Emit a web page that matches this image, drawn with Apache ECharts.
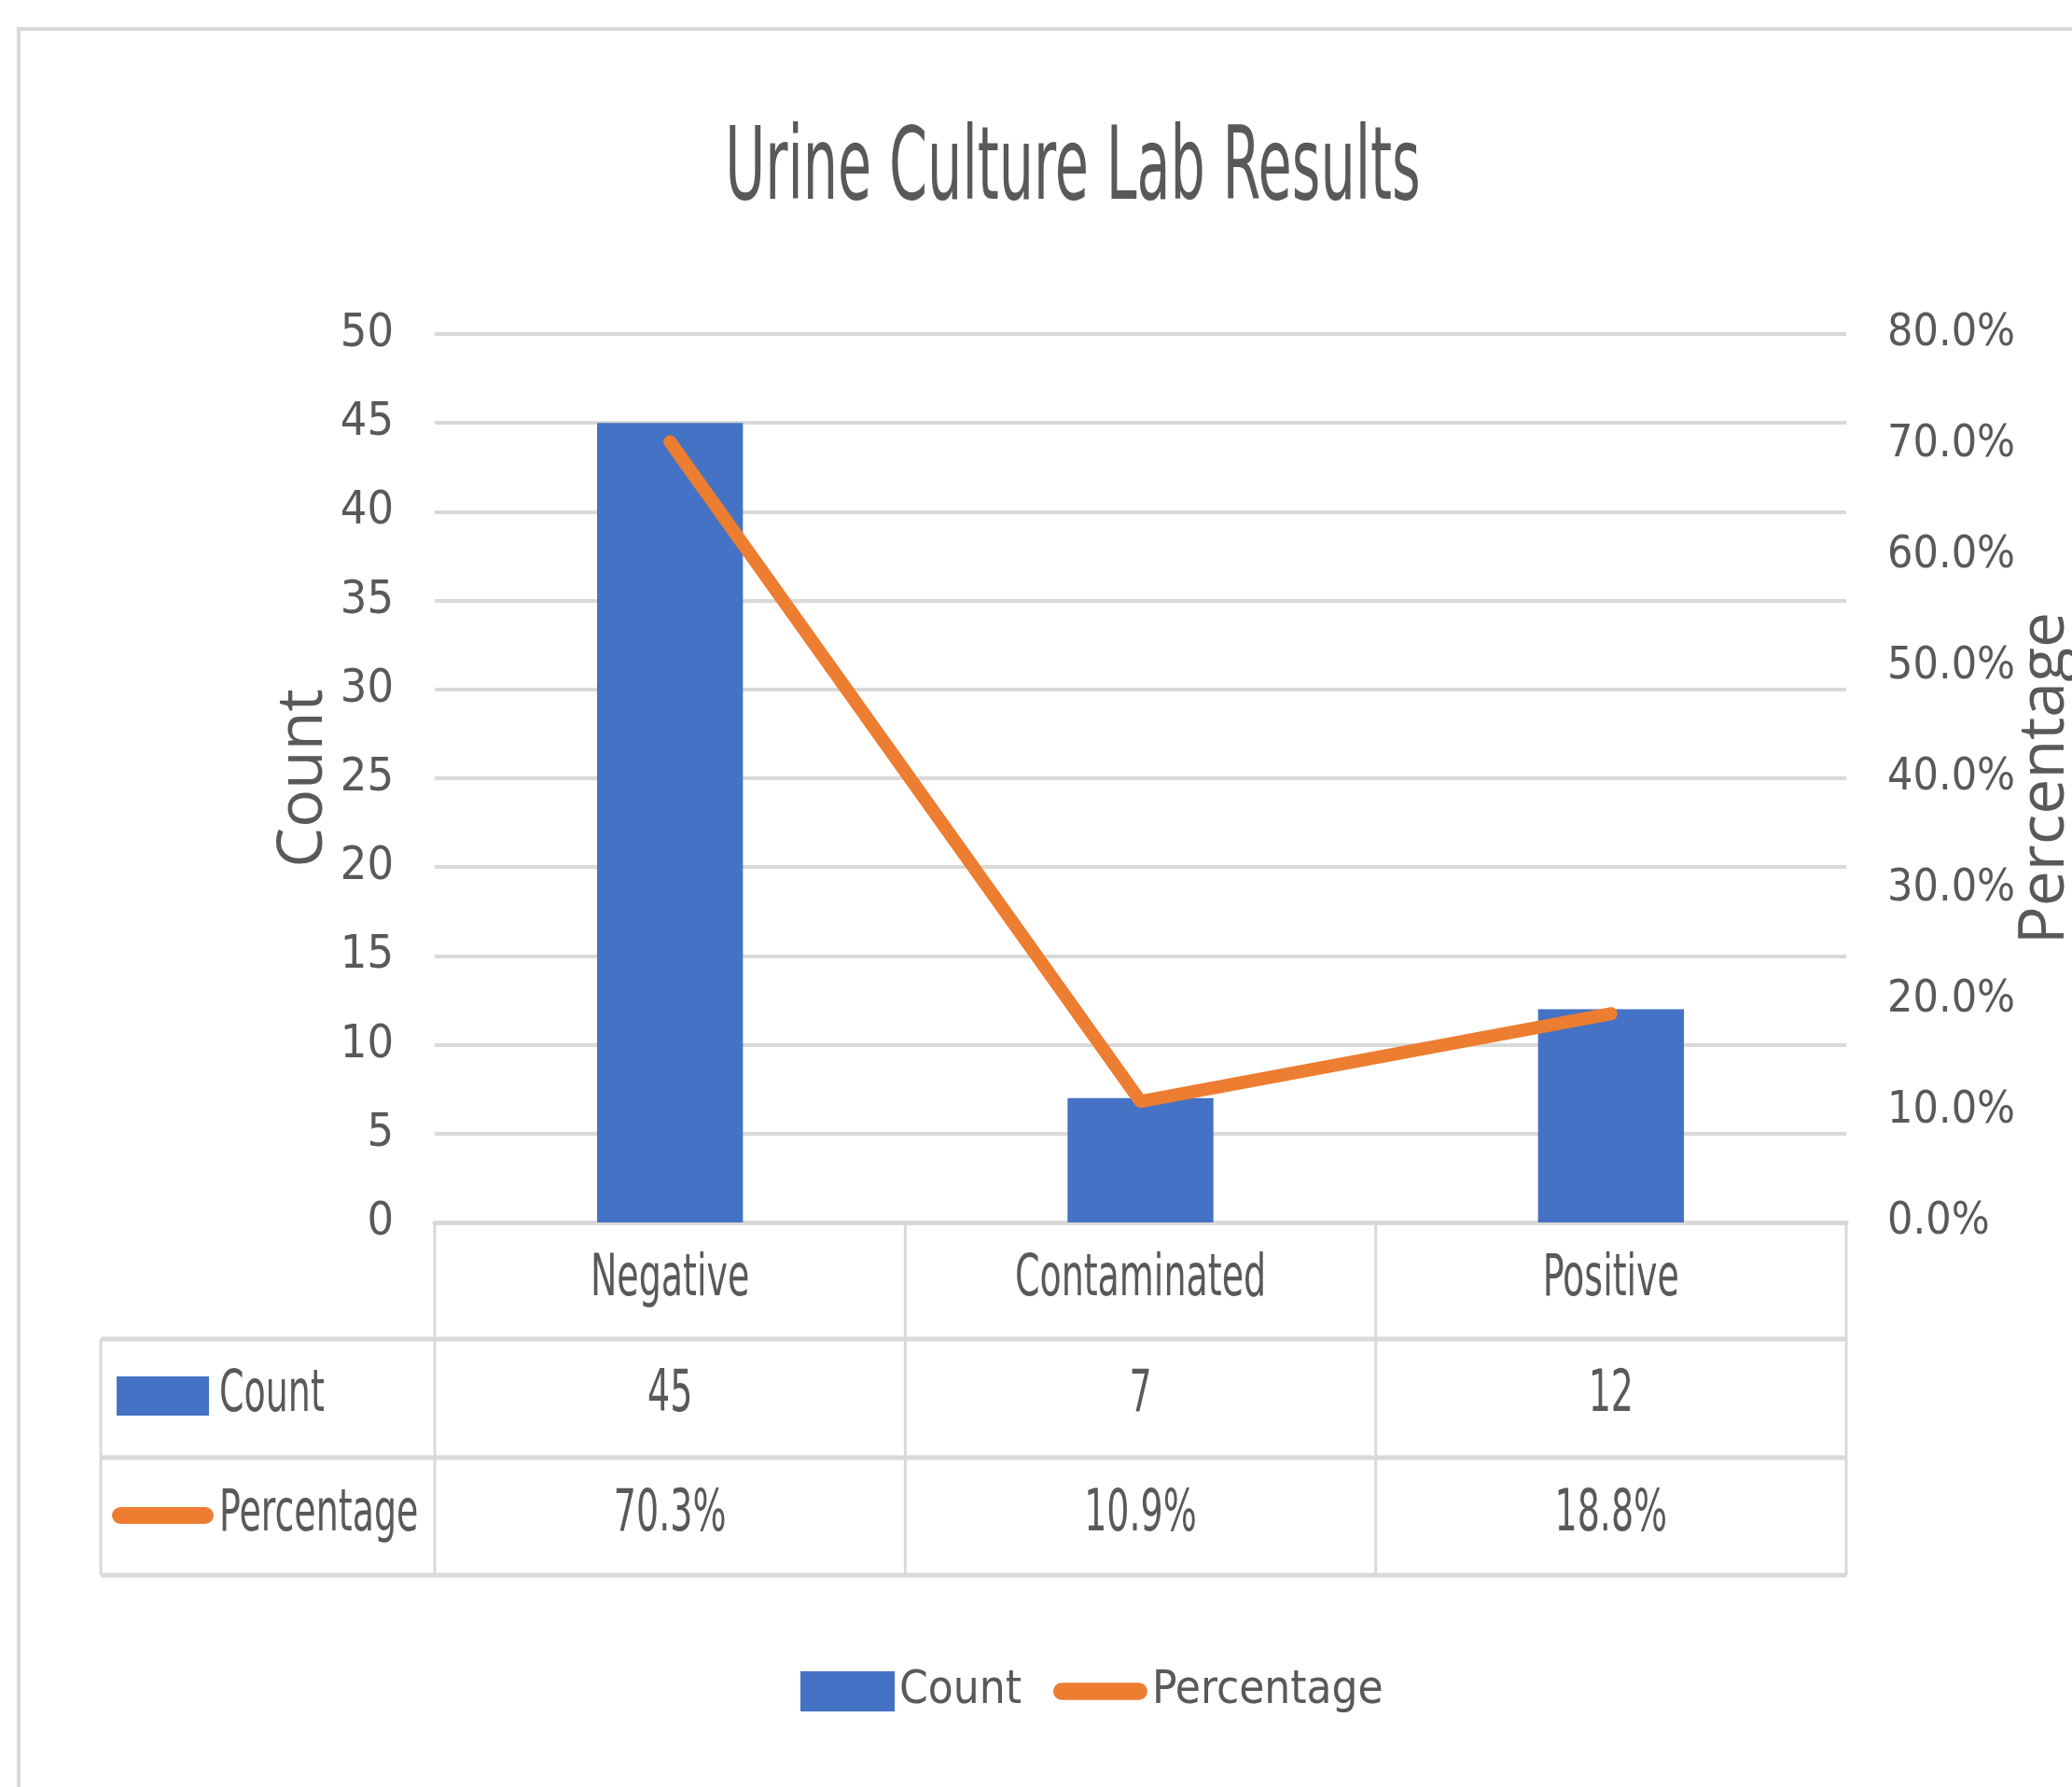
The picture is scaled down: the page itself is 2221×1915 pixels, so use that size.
<!DOCTYPE html>
<html><head><meta charset="utf-8">
<script src="https://cdn.jsdelivr.net/npm/echarts@6/dist/echarts.min.js"></script>
<style>html,body{margin:0;padding:0;background:#fff}#c{width:2221px;height:1915px}</style>
</head><body><div id="c"></div>
<script>
const titleText = 'Urine Culture Lab Results';
const categories = ['Negative', 'Contaminated', 'Positive'];
const seriesNames = ['Count', 'Percentage'];
const counts = [45, 7, 12];
const percentages = [0.703, 0.109, 0.188];
const countAxis = { min: 0, max: 50, interval: 5 };
const pctAxis = { min: 0, max: 0.8, interval: 0.1 };

const FONT = '"DejaVu Sans Condensed", "Liberation Sans Narrow", "Liberation Sans", sans-serif';
const TXT = '#595959';
const LINE = '#d9d9d9';
const BLUE = '#4472C4';
const ORANGE = '#ED7D31';

const G = { left: 466, right: 1979, top: 358, bottom: 1310 };
const rows = [1310, 1435, 1562, 1688];
const tableLeft = 108;
const SX = 0.67;
const fmtPct = v => (v * 100).toFixed(1) + '%';

const chart = echarts.init(document.getElementById('c'));

const graphics = [];
graphics.push({ type: 'rect', shape: { x: 20, y: 31, width: 2400, height: 2100 }, style: { fill: 'none', stroke: LINE, lineWidth: 4 }, silent: true });
for (let i = 1; i < rows.length; i++) {
  graphics.push({ type: 'line', shape: { x1: tableLeft, y1: rows[i], x2: G.right, y2: rows[i] }, style: { stroke: LINE, lineWidth: 5 } });
}
const colW = (G.right - G.left) / categories.length;
graphics.push({ type: 'line', shape: { x1: tableLeft, y1: rows[1], x2: tableLeft, y2: rows[3] }, style: { stroke: LINE, lineWidth: 3 } });
for (let i = 0; i <= categories.length; i++) {
  const x = G.left + colW * i;
  graphics.push({ type: 'line', shape: { x1: x, y1: rows[0], x2: x, y2: rows[3] }, style: { stroke: LINE, lineWidth: 3 } });
}
function txt(s, x, y, size, align, sx) {
  return { type: 'text', x: x, y: y, scaleX: sx, style: { text: s, font: size + 'px ' + FONT, fill: TXT, textAlign: align, textVerticalAlign: 'middle' } };
}
const rowMid = [1372, 1496, 1624];
categories.forEach((c, i) => {
  const cx = G.left + colW * (i + 0.5);
  graphics.push(txt(c, cx, rowMid[0], 63, 'center', SX));
  graphics.push(txt(String(counts[i]), cx, rowMid[1], 63, 'center', SX));
  graphics.push(txt(fmtPct(percentages[i]), cx, rowMid[2], 63, 'center', SX));
});
graphics.push({ type: 'rect', shape: { x: 125, y: 1475, width: 99, height: 42 }, style: { fill: BLUE } });
graphics.push(txt(seriesNames[0], 235, rowMid[1], 63, 'left', SX));
graphics.push({ type: 'rect', shape: { x: 120, y: 1615, width: 109, height: 18, r: 9 }, style: { fill: ORANGE } });
graphics.push(txt(seriesNames[1], 235, rowMid[2], 63, 'left', SX));
graphics.push(txt(titleText, 1150, 185, 109, 'center', 0.6));

chart.setOption({
  animation: false,
  backgroundColor: '#fff',
  textStyle: { fontFamily: FONT },
  grid: { left: G.left, right: 2221 - G.right, top: G.top, bottom: 1915 - G.bottom, containLabel: false, outerBoundsMode: 'none' },
  legend: {
    left: 858, top: 1788, itemWidth: 101, itemHeight: 43, itemGap: 34, padding: 0,
    textStyle: { fontSize: 49, color: TXT, fontFamily: FONT },
    data: [
      { name: seriesNames[0], icon: 'rect' },
      { name: seriesNames[1], icon: 'path://M10,0 L100,0 A10,10 0 0 1 100,20 L10,20 A10,10 0 0 1 10,0 Z' }
    ]
  },
  xAxis: {
    type: 'category', data: categories,
    axisLine: { lineStyle: { color: LINE, width: 5 } },
    axisTick: { show: false },
    axisLabel: { show: false }
  },
  yAxis: [
    {
      type: 'value', min: countAxis.min, max: countAxis.max, interval: countAxis.interval,
      name: 'Count', nameLocation: 'middle', nameGap: 106, nameRotate: 90, nameMoveOverlap: false,
      nameTextStyle: { fontSize: 68, color: TXT, fontFamily: '"Open Sans", sans-serif' },
      axisLabel: { fontSize: 50, color: TXT, margin: 44, fontFamily: FONT },
      axisLine: { show: false }, axisTick: { show: false },
      splitLine: { lineStyle: { color: LINE, width: 4 } }
    },
    {
      type: 'value', min: pctAxis.min, max: pctAxis.max, interval: pctAxis.interval,
      name: 'Percentage', nameLocation: 'middle', nameGap: 180, nameRotate: 90, nameMoveOverlap: false,
      nameTextStyle: { fontSize: 68, color: TXT, fontFamily: '"Open Sans", sans-serif' },
      axisLabel: { fontSize: 48, color: TXT, margin: 44, fontFamily: FONT, formatter: v => fmtPct(v) },
      axisLine: { show: false }, axisTick: { show: false },
      splitLine: { show: false }
    }
  ],
  series: [
    { name: seriesNames[0], type: 'bar', data: counts, barWidth: '31%', itemStyle: { color: BLUE }, yAxisIndex: 0 },
    { name: seriesNames[1], type: 'line', data: percentages, yAxisIndex: 1, symbol: 'none', z: 5,
      lineStyle: { color: ORANGE, width: 14, cap: 'round', join: 'round' }, itemStyle: { color: ORANGE } }
  ],
  graphic: graphics
});
</script></body></html>
